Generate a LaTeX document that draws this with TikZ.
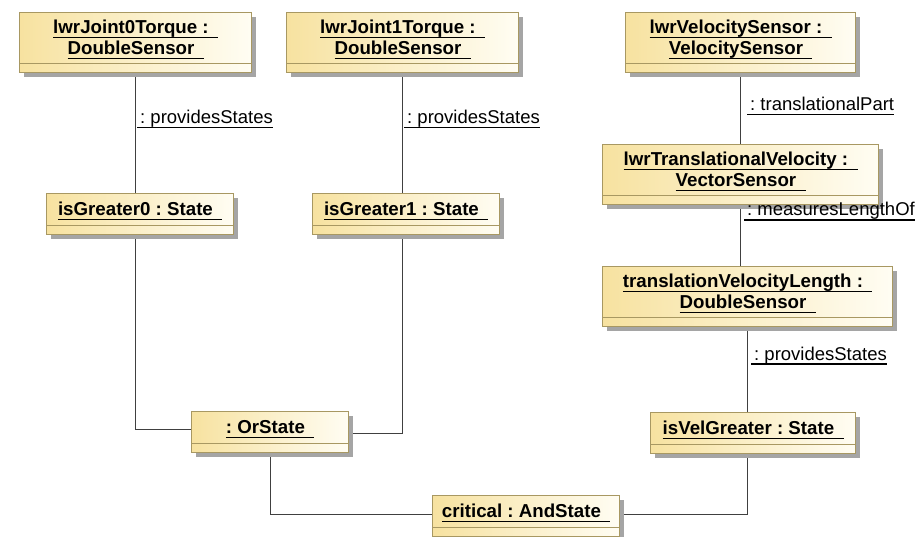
\documentclass[tikz,border=0pt]{standalone}
\usepackage{fontspec}
\setmainfont{Liberation Sans}
\usetikzlibrary{shadows,backgrounds}
\frenchspacing

\definecolor{objborder}{RGB}{168,152,98}
\definecolor{objleft}{RGB}{247,226,160}
\definecolor{objright}{RGB}{255,253,243}
\definecolor{shadowgray}{RGB}{165,165,165}
\definecolor{wiregray}{RGB}{64,64,64}

% underline at a fixed depth, whatever the descenders
\newsavebox\ulinebox
\newcommand\ulined[1]{\sbox\ulinebox{#1}\rlap{\rule[-4.5pt]{\wd\ulinebox}{1.3pt}}\usebox\ulinebox}
\newcommand\objtitle[1]{\ulined{#1\hspace{0.5em}}}
\newcommand\twolines[2]{\begin{tabular}[t]{@{}c@{}}\objtitle{#1}\\\objtitle{#2}\end{tabular}}
\newcommand\rolename[1]{\ulined{\hspace{3pt}: #1}}

\tikzset{
  obj/.style={draw=objborder, line width=1.3pt, left color=objleft, right color=objright,
    inner sep=0pt, anchor=north west, font=\fontsize{18.7}{21}\selectfont\bfseries,
    drop shadow={shadow xshift=4pt, shadow yshift=-4pt, fill=shadowgray, opacity=1},
    path picture={\draw[objborder, line width=1.3pt]
      ([yshift=9pt]path picture bounding box.south west) --
      ([yshift=9pt]path picture bounding box.south east);}},
  objone/.style={obj, text height=22pt, text depth=19pt, minimum width=#1},
  objtwo/.style={obj, text height=21pt, text depth=39pt, minimum width=#1},
  role/.style={anchor=base west, inner sep=0pt, font=\fontsize{18.5}{21}\selectfont},
  link/.style={draw=wiregray, line width=1.3pt},
}

\begin{document}
\begin{tikzpicture}[x=1pt, y=-1pt]
  \useasboundingbox (0,0) rectangle (920,537);

  % objects
  \node[objtwo=232pt] (A0) at (19,12)  {\twolines{lwrJoint0Torque :}{DoubleSensor}};
  \node[objtwo=232pt] (A1) at (286,12) {\twolines{lwrJoint1Torque :}{DoubleSensor}};
  \node[objtwo=230pt] (V)  at (625,12) {\twolines{lwrVelocitySensor :}{VelocitySensor}};
  \node[objone=187pt] (G0) at (46,193)  {\objtitle{isGreater0 : State}};
  \node[objone=187pt] (G1) at (312,193) {\objtitle{isGreater1 : State}};
  \node[objtwo=276pt] (TV) at (602,144) {\twolines{lwrTranslationalVelocity :}{VectorSensor}};
  \node[objtwo=290pt] (TL) at (602,266) {\twolines{translationVelocityLength :}{DoubleSensor}};
  \node[objone=205pt] (VG) at (650,412) {\objtitle{isVelGreater : State}};
  \node[objone=157pt] (Or) at (191,411) {\objtitle{: OrState}};
  \node[objone=187pt] (And) at (432,495) {\objtitle{critical : AndState}};

  % links, kept behind the objects and their shadows
  \begin{scope}[on background layer]
    \fill[white] (0,0) rectangle (920,537);
    \draw[link] (A0.south) -- (A0.south |- G0.north);
    \draw[link] (A1.south) -- (A1.south |- G1.north);
    \draw[link] (A0.south |- G0.south) |- ([yshift=3pt]Or.west);
    \draw[link] (A1.south |- G1.south) |- ([yshift=-1.5pt]Or.east);
    \draw[link] (Or.south) |- ([yshift=2pt]And.west);
    \draw[link] (TL.south |- VG.south) |- ([yshift=2pt]And.east);
    \draw[link] (V.south) -- (V.south |- TV.north);
    \draw[link] (TV.south) -- (TV.south |- TL.north);
    \draw[link] (TL.south) -- (TL.south |- VG.north);
  \end{scope}

  % link roles
  \node[role] (rA0) at (137,124) {\rolename{providesStates}};
  \node[role] (rA1) at (404,124) {\rolename{providesStates}};
  \node[role] (rV)  at (747,111) {\rolename{translationalPart}};
  \node[role] (rTV) at (744,216) {\rolename{measuresLengthOf}};
  \node[role] (rTL) at (751,360) {\rolename{providesStates}};
\end{tikzpicture}
\end{document}
